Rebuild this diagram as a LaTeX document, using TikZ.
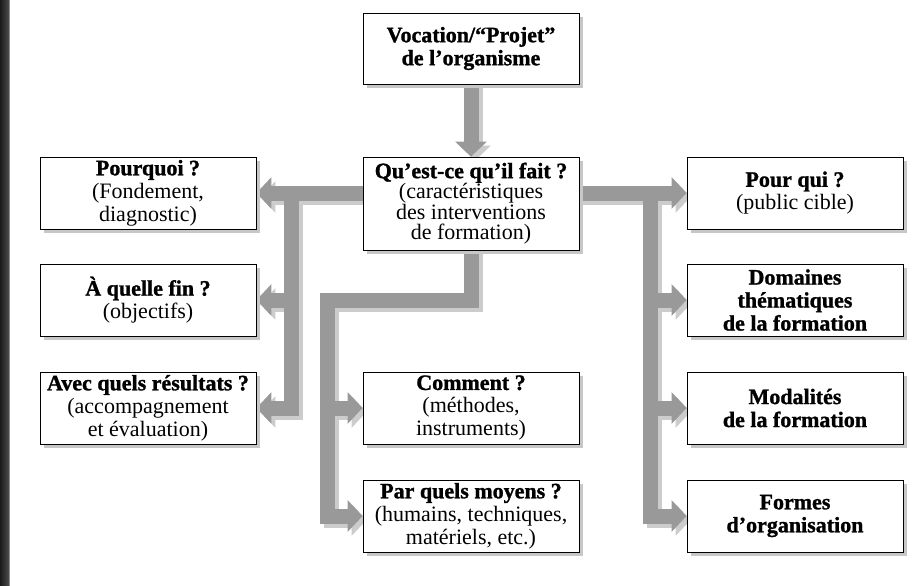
\documentclass[tikz,border=0pt]{standalone}
\usepackage{fontspec}
\setmainfont[BoldFeatures={FakeBold=1.2}]{Liberation Serif}
\usetikzlibrary{arrows.meta,shadows,backgrounds}

\tikzset{
  box/.style={draw, fill=white, line width=0.9pt, minimum width=216pt,
    minimum height=72pt, inner sep=1pt, align=center,
    font=\fontsize{22}{23}\selectfont,
    drop shadow={shadow xshift=4pt, shadow yshift=-4pt, fill=black!22, opacity=1}},
  fatarrow/.style={line width=15pt, draw=black!40,
    -{Triangle[length=15pt 0 0, width=31pt 0 0]}},
  fatshadow/.style={fatarrow, draw=black!20,
    transform canvas={xshift=4pt, yshift=-4pt}}
}

% all the grey connectors, drawn once as shadow and once as arrow
\newcommand{\branches}[1]{%
  \draw[#1] (voc.south) -- (qf.north);
  % left side
  \draw[#1] (qf.west |- pq.east) -- (pq.east);
  \draw[#1] (lt) -- (lt |- res.east) -- (res.east);
  \draw[#1] (lt |- fin.east) -- (fin.east);
  % right side
  \draw[#1] (qf.east |- qui.west) -- (qui.west);
  \draw[#1] (rt) -- (rt |- org.west) -- (org.west);
  \draw[#1] (rt |- dom.west) -- (dom.west);
  \draw[#1] (rt |- mod.west) -- (mod.west);
  % middle
  \draw[#1] (qf.south) -- (qf.south |- mt) -- (mt) -- (mt |- moy.west) -- (moy.west);
  \draw[#1] (mt |- com.west) -- (com.west);
}

\begin{document}
\begin{tikzpicture}[x=1pt, y=-1pt]
  \useasboundingbox (0,0) rectangle (919,586);
  \shade[left color=black!90, right color=black!70] (0,0) rectangle (9,586);
  \fill[black!45] (9,0) rectangle (10,586);

  \node[box, minimum height=71pt] (voc) at (471,48.5) {\textbf{Vocation/“Projet”}\\\textbf{de l’organisme}};
  \node[box, minimum height=93pt, font=\fontsize{22}{20.5}\selectfont] (qf) at (471,203.5)
    {\textbf{Qu’est-ce qu’il fait ?}\\(caractéristiques\\des interventions\\de formation)};

  \node[box] (pq)  at (148,193) {\textbf{Pourquoi ?}\\(Fondement,\\diagnostic)};
  \node[box] (fin) at (148,300) {\textbf{À quelle fin ?}\\(objectifs)};
  \node[box] (res) at (148,408) {\textbf{Avec quels résultats ?}\\(accompagnement\\et évaluation)};

  \node[box] (com) at (471,408) {\textbf{Comment ?}\\(méthodes,\\instruments)};
  \node[box] (moy) at (471,516) {\textbf{Par quels moyens ?}\\(humains, techniques,\\matériels, etc.)};

  \node[box] (qui) at (795,193) {\textbf{Pour qui ?}\\(public cible)};
  \node[box] (dom) at (795,300) {\textbf{Domaines}\\\textbf{thématiques}\\\textbf{de la formation}};
  \node[box] (mod) at (795,408) {\textbf{Modalités}\\\textbf{de la formation}};
  \node[box] (org) at (795,516) {\textbf{Formes}\\\textbf{d’organisation}};

  \coordinate (lt) at (291,193);
  \coordinate (rt) at (650,193);
  \coordinate (mt) at (327,300);

  \begin{scope}[on background layer]
    \branches{fatshadow}
    \branches{fatarrow}
  \end{scope}
\end{tikzpicture}
\end{document}
